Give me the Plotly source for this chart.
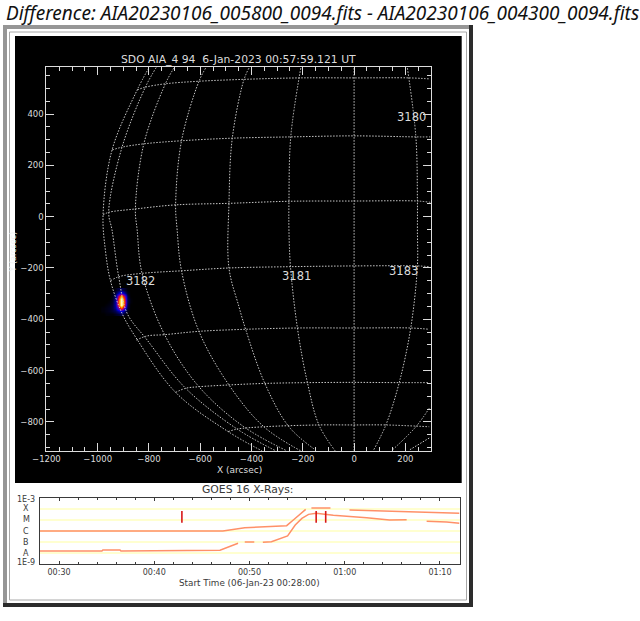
import plotly.graph_objects as go

# ---- solar grid, arcsec: latitude lines
lat_a_x = [-846, -814, -736, -605, -410, -215, 0, 215, 297]
lat_a_y = [494, 505, 518, 528, 536, 541, 541, 541, 537]
lat_b_x = [-944, -905, -820, -673, -475, -247, 0, 241, 297]
lat_b_y = [260, 271, 284, 296, 306, 311, 315, 311, 311]
lat_c_x = [-979, -957, -853, -696, -488, -254, 0, 247, 297]
lat_c_y = [7, 17, 30, 46, 52, 60, 61, 61, 56]
lat_d_x = [-950, -918, -827, -673, -488, -254, 0, 247, 293]
lat_d_y = [-250, -234, -221, -211, -200, -195, -192, -192, -195]
lat_e_x = [-849, -807, -739, -605, -423, -221, 0, 221, 293]
lat_e_y = [-481, -465, -460, -447, -439, -434, -434, -434, -439]
lat_f_x = [-696, -657, -605, -488, -348, -182, 0, 176, 293]
lat_f_y = [-685, -669, -663, -656, -650, -647, -646, -647, -647]
lat_g_x = [-491, -456, -352, -137, 0, 124, 293]
lat_g_y = [-838, -828, -819, -812, -812, -812, -819]

# longitude lines
lon_1_x = [-801, -846, -944, -979, -970, -950, -905, -853, -696, -491, -359]
lon_1_y = [579, 494, 260, 7, -130, -250, -377, -468, -685, -838, -913]
lon_2_x = [-772, -814, -905, -957, -944, -918, -885, -807, -657, -456, -305]
lon_2_y = [581, 505, 271, 17, -52, -234, -377, -481, -669, -828, -913]
lon_3_x = [-703, -736, -820, -853, -846, -827, -739, -605, -430, -262]
lon_3_y = [579, 518, 284, 30, -52, -221, -460, -663, -819, -913]
lon_4_x = [-579, -605, -673, -696, -690, -673, -605, -488, -352, -208]
lon_4_y = [579, 528, 296, 46, -52, -211, -447, -656, -819, -913]
lon_5_x = [-410, -430, -475, -488, -488, -449, -423, -348, -254, -150]
lon_5_y = [579, 533, 306, 52, -200, -351, -439, -650, -819, -910]
lon_6_x = [-208, -247, -254, -254, -248, -221, -182, -137, -74]
lon_6_y = [579, 311, 60, -52, -195, -434, -647, -812, -913]
lon_7_x = [0, 0]
lon_7_y = [579, -913]
lon_8_x = [208, 241, 247, 247, 247, 221, 176, 124, 76]
lon_8_y = [579, 311, 61, -52, -192, -434, -647, -812, -910]
lon_9_x = [293, 241, 149]
lon_9_y = [-747, -819, -910]
lon_10_x = [293, 215]
lon_10_y = [-863, -910]

# flare blob
blob_x = [-980, -968, -956, -944, -932, -920, -908, -896, -884, -872, -860]
blob_y = [-284, -296, -308, -320, -332, -344, -356, -368, -380]
blob_row_1 = [0, 0, 0, 0, .02, .06, .09, .05, .01, 0, 0]
blob_row_2 = [0, 0, 0, .02, .06, .18, .30, .16, .03, 0, 0]
blob_row_3 = [0, 0, 0, .02, .10, .48, .80, .46, .06, 0, 0]
blob_row_4 = [0, 0, 0, .03, .14, .62, 1, .60, .08, .01, 0]
blob_row_5 = [0, 0, .01, .04, .16, .66, 1, .64, .08, .01, 0]
blob_row_6 = [0, .01, .02, .05, .16, .62, 1, .58, .06, 0, 0]
blob_row_7 = [.01, .02, .03, .06, .14, .40, .68, .34, .04, 0, 0]
blob_row_8 = [.01, .02, .03, .05, .08, .16, .24, .12, .02, 0, 0]
blob_row_9 = [0, .01, .01, .01, .03, .05, .08, .03, 0, 0, 0]

# AR labels
ar_labels = ["3180", "3181", "3183", "3182"]
ar_x = [223, -226, 191, -834]
ar_y = [389, -231, -212, -252]

# GOES curves: minutes after 00:00, log10 flux
goes_up_t = [28, 47.2, 49.5, 53.9, 54.6, 55.9, None, 56.5, 58.5, None,
             60.5, 62.6, 65.6, 68.6, 70.7, 72.05]
goes_up_log = [-6.0, -6.0, -5.7, -5.52, -5.01, -4.05, None, -3.93, -3.93, None,
               -4.11, -4.17, -4.26, -4.32, -4.41, -4.41]
goes_lo_t = [28, 34.5, 34.6, 36.4, 36.5, 42.3, 44.4, 46.9, 48.8, None,
             49.5, 50.5, None,
             51.4, 52.3, 54, 54.8, 55.5, 56.2, 57, 58.8, 62.3, 64.7, 66.5, None,
             68.6, 70.7, 72.05]
goes_lo_log = [-7.8, -7.8, -7.71, -7.71, -7.8, -7.77, -7.8, -7.74, -7.11, None,
               -6.99, -6.99, None,
               -7.02, -6.96, -6.45, -5.46, -4.86, -4.5, -4.41, -4.59, -4.8, -5.01, -4.98, None,
               -5.13, -5.19, -5.31]
flare_t = [42.9, 57, 58]
flare_log_top = -4.2
flare_log_bottom = -5.25
goes_class = ["X", "M", "C", "B", "A"]
goes_class_log = [-4.0, -5.0, -6.0, -7.0, -8.05]
goes_ticks = [30, 40, 50, 60, 70]
goes_tick_labels = ["00:30", "00:40", "00:50", "01:00", "01:10"]

W, H = 640, 621
px = lambda v: v / W
py = lambda v: 1 - v / H
LINE = "#dcdcdc"
MONO = "DejaVu Sans"
DARK = "#3a3a3a"

fig = go.Figure()

fig.add_trace(go.Heatmap(
    x=blob_x, y=blob_y,
    z=[blob_row_1, blob_row_2, blob_row_3, blob_row_4, blob_row_5,
       blob_row_6, blob_row_7, blob_row_8, blob_row_9],
    zmin=0, zmax=1, zsmooth="best", showscale=False, hoverinfo="skip",
    colorscale=[[0, "#000000"], [.22, "#0000e0"], [.42, "#8000a0"], [.6, "#ff1000"],
                [.8, "#ffd000"], [1, "#fffff0"]],
    xaxis="x", yaxis="y"))

grid = [(lat_a_x, lat_a_y), (lat_b_x, lat_b_y), (lat_c_x, lat_c_y), (lat_d_x, lat_d_y),
        (lat_e_x, lat_e_y), (lat_f_x, lat_f_y), (lat_g_x, lat_g_y),
        (lon_1_x, lon_1_y), (lon_2_x, lon_2_y), (lon_3_x, lon_3_y), (lon_4_x, lon_4_y),
        (lon_5_x, lon_5_y), (lon_6_x, lon_6_y), (lon_7_x, lon_7_y), (lon_8_x, lon_8_y),
        (lon_9_x, lon_9_y), (lon_10_x, lon_10_y)]
for gx, gy in grid:
    fig.add_trace(go.Scatter(x=gx, y=gy, mode="lines", xaxis="x", yaxis="y",
                             line=dict(color="#c8c8c8", width=1, dash="1.5px,1.5px", shape="spline"),
                             showlegend=False, hoverinfo="skip"))


def flux(vals):
    return [None if v is None else 10.0 ** v for v in vals]


fig.add_trace(go.Scatter(x=goes_up_t, y=flux(goes_up_log), mode="lines", xaxis="x2", yaxis="y2",
                         line=dict(color="#ff9068", width=1.5), showlegend=False, hoverinfo="skip"))
fig.add_trace(go.Scatter(x=goes_lo_t, y=flux(goes_lo_log), mode="lines", xaxis="x2", yaxis="y2",
                         line=dict(color="#ff9068", width=1.5), showlegend=False, hoverinfo="skip"))
for t in flare_t:
    fig.add_trace(go.Scatter(x=[t, t], y=flux([flare_log_top, flare_log_bottom]), mode="lines",
                             xaxis="x2", yaxis="y2", line=dict(color="#d81818", width=1.6),
                             showlegend=False, hoverinfo="skip"))


def rect(x0, y0, x1, y1, fill, line=None):
    return dict(type="rect", xref="paper", yref="paper", layer="below",
                x0=px(x0), x1=px(x1), y0=py(y1), y1=py(y0), fillcolor=fill,
                line=dict(color=line or fill, width=1 if line else 0))


shapes = [
    rect(3, 25, 473, 607, "#2c2c2c"),
    rect(3, 25, 469, 603, "#969696"),
    rect(7, 29, 469, 603, "#ffffff"),
    rect(9.5, 32, 466.5, 600, "#ffffff", "#a8a8a8"),
    rect(15, 36, 461.7, 483, "#000000"),
]


def label(text, x, y, size, color, xanchor="center", angle=0, family=MONO):
    return dict(text=text, x=px(x), y=py(y), xref="paper", yref="paper", xanchor=xanchor,
                yanchor="middle", showarrow=False, textangle=angle,
                font=dict(family=family, size=size, color=color))


ann = [
    label("<i>Difference: AIA20230106_005800_0094.fits - AIA20230106_004300_0094.fits</i>",
          4, 13, 19, "#111111", xanchor="left", family="Noto Sans"),
    label("SDO AIA_4 94  6-Jan-2023 00:57:59.121 UT", 238, 59.5, 10.8, LINE),
    label("X (arcsec)", 239, 470, 9, LINE),
    label("Y (arcsec)", 12.5, 252, 8, "#f0f0f0", angle=-90),
    label("GOES 16 X-Rays:", 247, 490, 10.8, DARK),
    label("Start Time (06-Jan-23 00:28:00)", 249, 583, 8.8, DARK),
    label("1E-3", 37, 499, 8, DARK, xanchor="right"),
    label("1E-9", 37, 562, 8, DARK, xanchor="right"),
]
for t, x, y in zip(ar_labels, ar_x, ar_y):
    ann.append(dict(text=t, x=x, y=y, xref="x", yref="y", showarrow=False,
                    xanchor="center", yanchor="middle",
                    font=dict(family=MONO, size=11.5, color="#dcdcdc")))
for c, l in zip(goes_class, goes_class_log):
    ann.append(dict(text=c, x=px(26), y=l, xref="paper", yref="y2", showarrow=False,
                    xanchor="center", yanchor="middle",
                    font=dict(family=MONO, size=8, color=DARK)))

fig.update_layout(
    width=W, height=H, margin=dict(l=0, r=0, t=0, b=0, autoexpand=False),
    paper_bgcolor="#ffffff", plot_bgcolor="rgba(0,0,0,0)", showlegend=False,
    shapes=shapes, annotations=ann,
    xaxis=dict(domain=[px(46.4), px(431)], range=[-1200, 300], tick0=-1200, dtick=200,
               ticks="inside", ticklen=8, tickwidth=1, tickcolor=LINE,
               minor=dict(dtick=50, ticks="inside", ticklen=4, tickwidth=1, tickcolor=LINE),
               showline=True, linecolor=LINE, linewidth=1, mirror="ticks",
               showgrid=False, zeroline=False,
               tickfont=dict(family=MONO, size=8.5, color=LINE)),
    yaxis=dict(domain=[py(451), py(67)], range=[-913.5, 583.5], tick0=-800, dtick=200,
               ticks="inside", ticklen=8, tickwidth=1, tickcolor=LINE,
               minor=dict(dtick=50, ticks="inside", ticklen=4, tickwidth=1, tickcolor=LINE),
               showline=True, linecolor=LINE, linewidth=1, mirror="ticks",
               showgrid=False, zeroline=False,
               tickfont=dict(family=MONO, size=8.5, color=LINE)),
    xaxis2=dict(domain=[px(40), px(459.5)], range=[28, 72.05], anchor="y2",
                tickvals=goes_ticks, ticktext=goes_tick_labels,
                ticks="inside", ticklen=3, tickwidth=1, tickcolor=DARK,
                minor=dict(dtick=2, ticks="inside", ticklen=2, tickwidth=1, tickcolor=DARK),
                showline=True, linecolor=DARK, linewidth=1, mirror="ticks",
                showgrid=False, zeroline=False,
                tickfont=dict(family=MONO, size=8, color=DARK)),
    yaxis2=dict(domain=[py(564.3), py(497.7)], type="log", range=[-9, -3], anchor="x2",
                tickvals=[1e-8, 1e-7, 1e-6, 1e-5, 1e-4], showticklabels=False, ticks="",
                showgrid=True, gridcolor="#ffffd0", gridwidth=1.5,
                showline=True, linecolor=DARK, linewidth=1, mirror=True, zeroline=False),
)

fig.write_html("out.html", config=dict(displayModeBar=False),
               post_script="document.body.style.margin='0';document.body.style.overflow='hidden';")
